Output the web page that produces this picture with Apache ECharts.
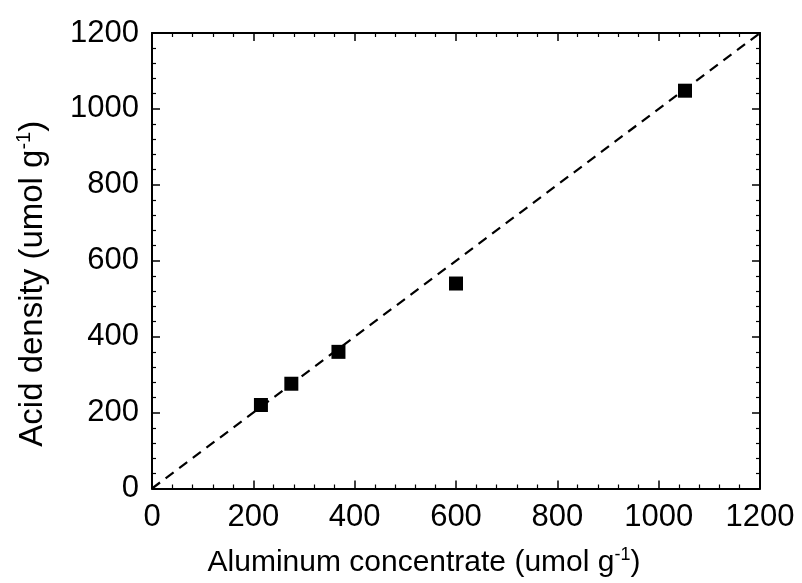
<!DOCTYPE html>
<html>
<head>
<meta charset="utf-8">
<script src="https://cdn.jsdelivr.net/npm/echarts@6/dist/echarts.min.js"></script>
<style>
  html, body { margin: 0; padding: 0; background: #fff; }
  #chart { width: 802px; height: 583px; }
</style>
</head>
<body>
<div id="chart"></div>
<script>
// Aluminum concentration vs. acid density (umol/g)
const aluminum = [215, 275, 368, 600, 1052];
const acidDensity = [220, 276, 360, 540, 1048];
const parityLine = [0, 1200];
const axisMin = 0, axisMax = 1200, axisStep = 200;

const FONT = '"Liberation Sans", Arial, sans-serif';
const points = aluminum.map((x, i) => [x, acidDensity[i]]);
const diagonal = parityLine.map(v => [v, v]);

function titleRich(size, supSize) {
  return {
    t: { fontSize: size, fontFamily: FONT, color: '#000' },
    s: { fontSize: supSize, fontFamily: FONT, color: '#000', verticalAlign: 'top', padding: [0, 0, Math.round(size * 0.5), 0] }
  };
}

const tickLabel = { color: '#000', fontSize: 31, fontFamily: FONT, formatter: v => String(v) };

function makeAxis(pos, showLabels, extra) {
  return Object.assign({
    type: 'value', position: pos, min: axisMin, max: axisMax, interval: axisStep,
    axisLine: { show: true, onZero: false, lineStyle: { color: '#000', width: 2 } },
    axisTick: { show: true, inside: true, length: 8, lineStyle: { color: '#000', width: 1.5 } },
    minorTick: { show: true, splitNumber: 5, length: 4, lineStyle: { color: '#000', width: 1.2 } },
    splitLine: { show: false },
    axisLabel: Object.assign({ show: showLabels }, tickLabel)
  }, extra || {});
}

const chart = echarts.init(document.getElementById('chart'), null, { renderer: 'canvas' });
chart.setOption({
  backgroundColor: '#fff',
  animation: false,
  grid: { left: 152, right: 42, top: 33, bottom: 93, containLabel: false },
  xAxis: [
    makeAxis('bottom', true, {
      name: '{t|Aluminum concentrate (umol g}{s|-1}{t|)}',
      nameLocation: 'middle', nameGap: 58,
      nameTextStyle: { rich: titleRich(30, 18), padding: [0, 64, 0, 0] },
      axisLabel: Object.assign({ show: true, margin: 13 }, tickLabel)
    }),
    makeAxis('top', false)
  ],
  yAxis: [
    makeAxis('left', true, {
      name: '{t|Acid density (umol g}{s|-1}{t|)}',
      nameLocation: 'middle', nameGap: 101, nameRotate: 90,
      nameTextStyle: { rich: titleRich(33, 20), padding: [0, 46, 0, 0] },
      axisLabel: Object.assign({ show: true, margin: 13 }, tickLabel)
    }),
    makeAxis('right', false)
  ],
  series: [
    {
      type: 'line', data: diagonal, xAxisIndex: 0, yAxisIndex: 0,
      symbol: 'none', silent: true,
      lineStyle: { color: '#000', width: 2.2, type: [10, 7] }
    },
    {
      type: 'scatter', data: points, xAxisIndex: 0, yAxisIndex: 0,
      symbol: 'rect', symbolSize: 14,
      itemStyle: { color: '#000', opacity: 1 }
    }
  ]
});
</script>
</body>
</html>
